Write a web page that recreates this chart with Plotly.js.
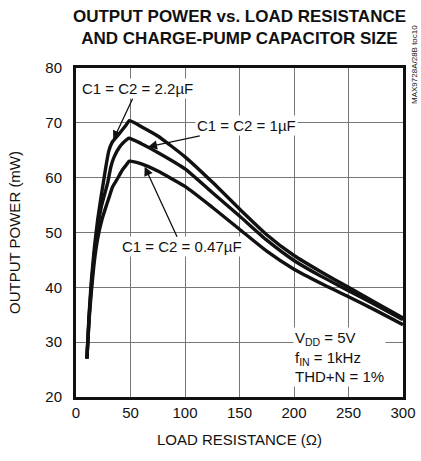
<!DOCTYPE html>
<html><head><meta charset="utf-8">
<script src="https://cdn.plot.ly/plotly-3.0.1.min.js"></script>
<style>body{margin:0;background:#fff}#c{width:421px;height:461px}</style>
</head><body><div id="c"></div>
<script>
const x22 = [10,12,14,17,20,23,25,27,30,33,37,42,46,49,60,75,100,125,150,175,200,225,250,275,300];
const y22 = [27,35,41,47.5,52.5,56.5,59,61.5,64.8,66.4,67.4,68.6,69.6,70.4,69.3,67.6,63.8,59.2,54.3,49.6,45.8,42.8,40.0,37.2,34.4];
const x10 = [10,12,14,17,20,23,26,29,32,35,40,44,48.5,60,75,100,125,150,175,200,225,250,275,300];
const y10 = [27,34.5,40,46.5,51,54.5,56.8,59,62,63.8,65.6,66.5,67.2,66.2,64.6,61.6,57.3,53.0,48.6,44.9,42.0,39.4,36.8,34.1];
const x047 = [10,12,14,17,20,24,28,30.5,33.5,38,42.5,46,49,60,75,100,125,150,175,200,225,250,275,300];
const y047 = [27,34,39,45,49,52.5,55,56.5,58.3,59.8,61.4,62.3,63,62.5,61.2,58.4,54.6,50.6,46.6,43.3,40.7,38.3,35.8,33.2];
const seriesNames = ["C1 = C2 = 2.2µF","C1 = C2 = 1µF","C1 = C2 = 0.47µF"];
const xTicks = [0,50,100,150,200,250,300];
const yTicks = [20,30,40,50,60,70,80];

const F = '"Liberation Sans", Arial, sans-serif';
const line = {color:'#111', width:3.4, shape:'spline', smoothing:0.5};
const data = [
  {x:x22, y:y22, name:seriesNames[0], mode:'lines', line:line},
  {x:x10, y:y10, name:seriesNames[1], mode:'lines', line:line},
  {x:x047, y:y047, name:seriesNames[2], mode:'lines', line:line}
];
const ann = (tx,ty,ax,ay,text)=>({x:tx,y:ty,xref:'x',yref:'y',ax:ax,ay:ay,text:text,showarrow:true,
  arrowhead:2,arrowsize:1.4,arrowwidth:1.3,arrowcolor:'#111',bgcolor:'#fff',borderpad:1,
  font:{family:F,size:15,color:'#111'}});
const layout = {
  width:421,height:461,
  margin:{l:76,r:18,t:68,b:64},
  paper_bgcolor:'#fff',plot_bgcolor:'#fff',
  showlegend:false,
  font:{family:F,color:'#111',size:15},
  title:{text:'<b>OUTPUT POWER vs. LOAD RESISTANCE<br>AND CHARGE-PUMP CAPACITOR SIZE</b>',
    font:{family:F,size:17,color:'#111'},x:0.5,xref:'paper',y:0.952,yanchor:'middle'},
  xaxis:{range:[0,300],tickvals:xTicks,showgrid:true,gridcolor:'#777',gridwidth:1,
    showline:true,linecolor:'#111',linewidth:3,mirror:true,ticks:'',zeroline:false,
    tickfont:{family:F,size:15},
    title:{text:'LOAD RESISTANCE (Ω)',font:{family:F,size:15},standoff:15}},
  yaxis:{range:[20,80],tickvals:yTicks,showgrid:true,gridcolor:'#777',gridwidth:1,
    showline:true,linecolor:'#111',linewidth:3,mirror:true,ticks:'',zeroline:false,
    tickfont:{family:F,size:15},ticklabelstandoff:8,
    title:{text:'OUTPUT POWER (mW)',font:{family:F,size:15},standoff:22}},
  annotations:[
    ann(34.2,66.9,24,-51,seriesNames[0]),
    ann(66,65.6,99,-21,seriesNames[1]),
    ann(63,62.0,37,80,seriesNames[2]),
    {x:199,y:27.3,xref:'x',yref:'y',xanchor:'left',yanchor:'middle',showarrow:false,align:'left',
     bgcolor:'#fff',text:'V<sub>DD</sub> = 5V<br>f<sub>IN</sub> = 1kHz<br>THD+N = 1%',
     font:{family:F,size:15,color:'#111'}},
    {x:(415-76)/(421-76-18),y:(461-64-65)/(461-68-64),xref:'paper',yref:'paper',xanchor:'center',yanchor:'middle',showarrow:false,
     textangle:-90,text:'MAX9728A/28B toc10',font:{family:F,size:8,color:'#111'}}
  ]
};
Plotly.newPlot('c',data,layout,{staticPlot:true});
</script></body></html>
